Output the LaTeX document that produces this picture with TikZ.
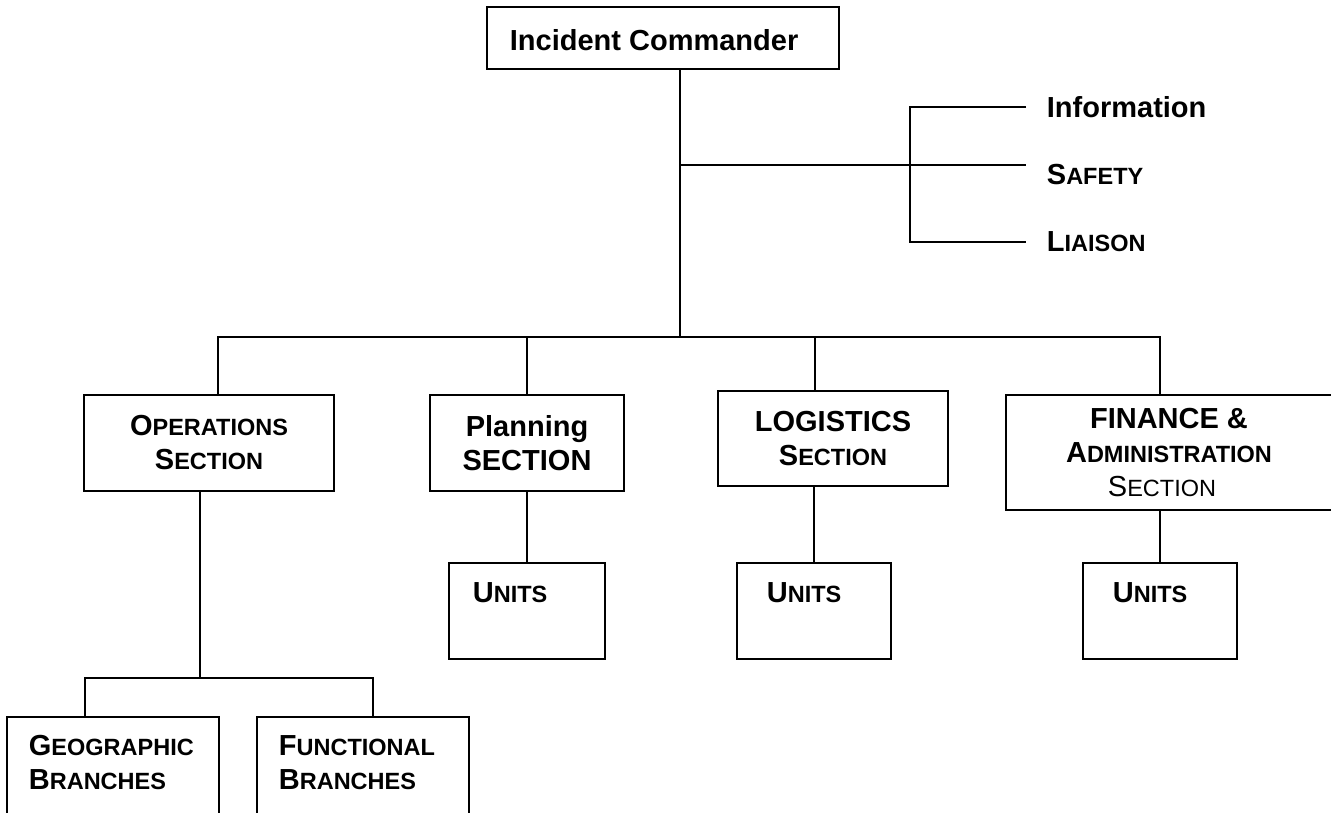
\documentclass[tikz,border=0pt]{standalone}
\usepackage{fontspec}
\setmainfont{Liberation Sans}
\newcommand\sca[2]{#1{\fontsize{23.5}{34}\selectfont #2}}
\begin{document}
\begin{tikzpicture}[x=1pt,y=-1pt,
  line width=1.8pt,
  box/.style={draw, rectangle, inner sep=0pt, align=center, font=\fontsize{29}{34}\selectfont\bfseries},
  lbl/.style={anchor=base west, inner sep=0pt, font=\fontsize{29}{34}\selectfont\bfseries}]
\useasboundingbox (0,0) rectangle (1331,812);
\clip (0,0) rectangle (1331,812);

% Incident Commander
\node[box, minimum width=352pt, minimum height=62pt] (ic) at (663,38) {};
\node[lbl] (ictext) at (509,50) {Incident Commander};

% staff
\coordinate (t1) at (680,165);
\coordinate (t2) at (680,337);
\coordinate (s) at (910,165);
\coordinate (infoE) at (1026,107);
\coordinate (safeE) at (1026,165);
\coordinate (liaE) at (1026,242);
\node[lbl] (info) at (1046,117) {Information};
\node[lbl] (safety) at (1046,184) {\sca{S}{AFETY}};
\node[lbl] (liaison) at (1046,251) {\sca{L}{IAISON}};
\draw (ic.south -| t1) -- (t2);
\draw (t1) -- (safeE);
\draw (infoE) -- (s |- infoE) -- (s |- liaE) -- (liaE);

% sections
\node[box, minimum width=250pt, minimum height=96pt] (ops) at (209,443) {\sca{O}{PERATIONS}\\\sca{S}{ECTION}};
\node[box, minimum width=194pt, minimum height=96pt] (plan) at (527,443) {Planning\\SECTION};
\node[box, minimum width=230pt, minimum height=95pt] (log) at (833,438.5) {LOGISTICS\\\sca{S}{ECTION}};
\node[box, minimum width=326pt, minimum height=115pt] (fin) at (1169,452.5) {FINANCE \&\\\sca{A}{DMINISTRATION}\\{\mdseries\sca{S}{ECTION}}\hspace*{14pt}};

% bus
\coordinate (b1) at (218,337);
\coordinate (b4) at (1160,337);
\coordinate (ld) at (815,337);
\draw (b1 |- ops.north) -- (b1) -- (b4) -- (b4 |- fin.north);
\draw (plan.north) -- (plan.north |- b1);
\draw (ld) -- (ld |- log.north);

% units
\node[box, minimum width=156pt, minimum height=96pt] (punits) at (527,611) {};
\node[box, minimum width=154pt, minimum height=96pt] (lunits) at (814,611) {};
\node[box, minimum width=154pt, minimum height=96pt] (funits) at (1160,611) {};
\node[lbl] (putext) at (472,602) {\sca{U}{NITS}};
\node[lbl] (lutext) at (766,602) {\sca{U}{NITS}};
\node[lbl] (futext) at (1112,602) {\sca{U}{NITS}};
\draw (plan.south) -- (punits.north);
\draw (lunits.north |- log.south) -- (lunits.north);
\draw (funits.north |- fin.south) -- (funits.north);

% branches
\coordinate (od) at (200,678);
\coordinate (g1) at (85,678);
\coordinate (g2) at (373,678);
\node[box, minimum width=212pt, minimum height=113pt] (geo) at (113,773.5) {};
\node[box, minimum width=212pt, minimum height=113pt] (fun) at (363,773.5) {};
\node[lbl] (geotext) at (28,755) {\begin{tabular}[t]{@{}l@{}}\sca{G}{EOGRAPHIC}\\\sca{B}{RANCHES}\end{tabular}};
\node[lbl] (funtext) at (278,755) {\begin{tabular}[t]{@{}l@{}}\sca{F}{UNCTIONAL}\\\sca{B}{RANCHES}\end{tabular}};
\draw (od |- ops.south) -- (od);
\draw (g1 |- geo.north) -- (g1) -- (g2) -- (g2 |- fun.north);
\end{tikzpicture}
\end{document}
